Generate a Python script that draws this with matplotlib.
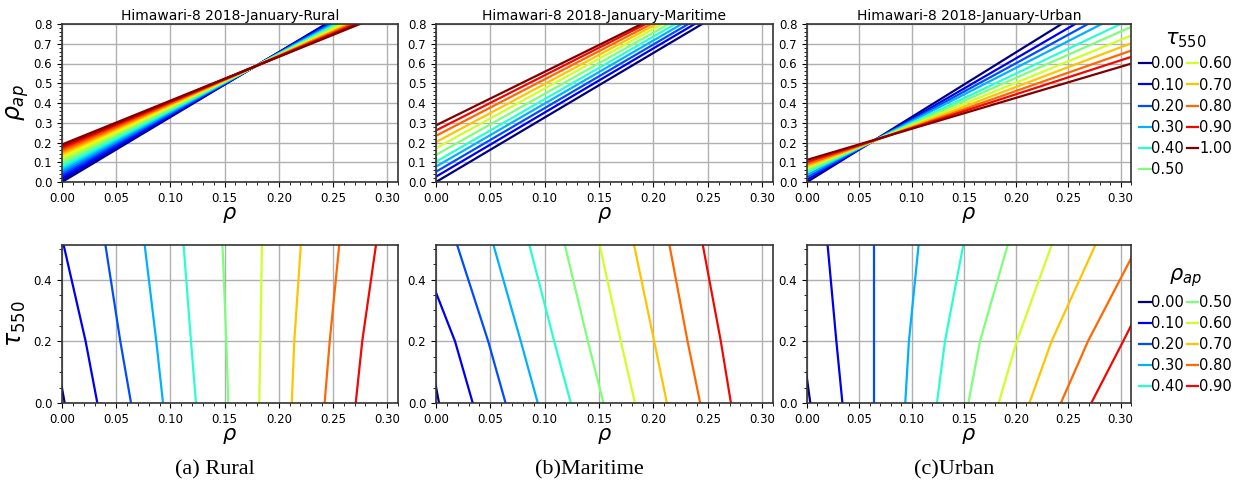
import matplotlib.pyplot as plt
from matplotlib.lines import Line2D

# ---- top row: rho_ap read at rho = 0 and rho = 0.31 for every tau550 curve
rho_ends = [0.0, 0.31]

rural_tau = [0.00, 0.05, 0.10, 0.15, 0.20, 0.25, 0.30, 0.35, 0.40, 0.45, 0.50,
             0.55, 0.60, 0.65, 0.70, 0.75, 0.80, 0.85, 0.90, 0.95, 1.00]
rural_start = [0.000, 0.010, 0.020, 0.030, 0.040, 0.050, 0.060, 0.070, 0.080, 0.090, 0.100,
               0.110, 0.120, 0.130, 0.140, 0.150, 0.158, 0.166, 0.174, 0.182, 0.190]
rural_end = [1.019, 1.011, 1.004, 0.997, 0.989, 0.982, 0.974, 0.967, 0.959, 0.952, 0.945,
             0.937, 0.930, 0.922, 0.915, 0.908, 0.902, 0.896, 0.890, 0.884, 0.878]

maritime_tau = [0.0, 0.1, 0.2, 0.3, 0.4, 0.5, 0.6, 0.7, 0.8, 0.9, 1.0]
maritime_start = [0.000, 0.027, 0.052, 0.078, 0.103, 0.137, 0.171, 0.202, 0.234, 0.261, 0.287]
maritime_end = [1.013, 1.034, 1.051, 1.068, 1.085, 1.097, 1.108, 1.115, 1.120, 1.127, 1.128]

urban_tau = [0.0, 0.1, 0.2, 0.3, 0.4, 0.5, 0.6, 0.7, 0.8, 0.9, 1.0]
urban_start = [0.000, 0.012, 0.024, 0.036, 0.048, 0.059, 0.070, 0.080, 0.090, 0.101, 0.112]
urban_end = [1.018, 0.964, 0.919, 0.876, 0.825, 0.785, 0.741, 0.702, 0.665, 0.633, 0.599]

# ---- bottom row: rho read at tau550 = 0, 0.2 and top edge for every rho_ap level
tau_pts = [0.0, 0.2, 0.52]
levels = [0.0, 0.1, 0.2, 0.3, 0.4, 0.5, 0.6, 0.7, 0.8, 0.9]

rural_rho = [[0.0025, -0.008, -0.025],
             [0.0326, 0.0218, 0.001],
             [0.0637, 0.0538, 0.0397],
             [0.0932, 0.087, 0.076],
             [0.1236, 0.119, 0.112],
             [0.1534, 0.1516, 0.148],
             [0.182, 0.183, 0.1845],
             [0.212, 0.2143, 0.2205],
             [0.2423, 0.247, 0.256],
             [0.271, 0.277, 0.290]]

maritime_rho = [[0.0028, -0.008, -0.026],
                [0.0338, 0.0175, -0.018],
                [0.064, 0.048, 0.0187],
                [0.0936, 0.078, 0.0522],
                [0.124, 0.1087, 0.0853],
                [0.154, 0.1397, 0.118],
                [0.183, 0.170, 0.150],
                [0.2124, 0.2007, 0.1817],
                [0.243, 0.2314, 0.2143],
                [0.2713, 0.262, 0.245]]

urban_rho = [[0.0032, -0.005, -0.019],
             [0.0339, 0.0281, 0.0195],
             [0.0639, 0.0639, 0.0639],
             [0.094, 0.0975, 0.107],
             [0.1243, 0.132, 0.150],
             [0.1544, 0.1655, 0.1927],
             [0.1834, 0.2007, 0.235],
             [0.2128, 0.234, 0.277],
             [0.2429, 0.2688, 0.318],
             [0.272, 0.3025, 0.350]]

titles = ["Himawari-8 2018-January-Rural", "Himawari-8 2018-January-Maritime",
          "Himawari-8 2018-January-Urban"]
captions = ["(a) Rural", "(b)Maritime", "(c)Urban"]

W, H = 1247, 496
fig = plt.figure(figsize=(W / 100, H / 100), dpi=100)

# axes boxes in pixels: left, right
cols = [(62, 398), (436, 773), (807, 1131)]


def box(x0, x1, y0, y1):
    return [x0 / W, 1 - y1 / H, (x1 - x0) / W, (y1 - y0) / H]


def style(ax):
    ax.set_xlim(0, 0.31)
    ax.set_xticks([0.0, 0.05, 0.10, 0.15, 0.20, 0.25, 0.30])
    ax.minorticks_on()
    ax.grid(True, which='major', color='#b0b0b0', linewidth=1)
    ax.tick_params(labelsize=8.5, length=3.5, width=0.8)
    ax.tick_params(which='minor', length=2, width=0.6)
    for s in ax.spines.values():
        s.set_linewidth(1.2)
        s.set_color('#333333')
    ax.set_xlabel(r'$\rho$', fontsize=15, labelpad=0)


def legend(ax, vals, title, y):
    handles = [Line2D([], [], color=plt.cm.jet(v), linewidth=1.6) for v in vals]
    ax.legend(handles, ["%.2f" % v for v in vals], ncol=2,
              loc='upper left', bbox_to_anchor=(1.025, y), frameon=False,
              fontsize=10.5, title=title, title_fontsize=15,
              handlelength=0.8, handletextpad=0.05, columnspacing=0.15,
              labelspacing=0.42, borderaxespad=0, borderpad=0)


top_data = [(rural_tau, rural_start, rural_end),
            (maritime_tau, maritime_start, maritime_end),
            (urban_tau, urban_start, urban_end)]
bottom_data = [rural_rho, maritime_rho, urban_rho]

for i in range(3):
    x0, x1 = cols[i]
    ax = fig.add_axes(box(x0, x1, 24, 182))
    taus, starts, ends = top_data[i]
    for t, a, b in zip(taus, starts, ends):
        ax.plot(rho_ends, [a, b], color=plt.cm.jet(t), linewidth=1.6)
    style(ax)
    ax.set_ylim(0, 0.8)
    ax.set_yticks([0.0, 0.1, 0.2, 0.3, 0.4, 0.5, 0.6, 0.7, 0.8])
    ax.set_title(titles[i], fontsize=10, pad=3)
    if i == 0:
        ax.set_ylabel(r'$\rho_{ap}$', fontsize=17, labelpad=2)
    if i == 2:
        legend(ax, urban_tau, r'$\tau_{550}$', 0.97)

    axb = fig.add_axes(box(x0, x1, 245, 403))
    for lev, pts in zip(levels, bottom_data[i]):
        axb.plot(pts, tau_pts, color=plt.cm.jet(lev), linewidth=1.6)
    style(axb)
    axb.set_ylim(0, 0.512)
    axb.set_yticks([0.0, 0.2, 0.4])
    if i == 0:
        axb.set_ylabel(r'$\tau_{550}$', fontsize=17, labelpad=4)
    if i == 2:
        legend(axb, levels, r'$\rho_{ap}$', 0.88)

    fig.text((x0 + x1) / 2 / W - 0.012, 1 - 470 / H, captions[i], fontsize=16,
             family='Liberation Serif', ha='center', va='center')

fig.savefig('out.png', dpi=100)
